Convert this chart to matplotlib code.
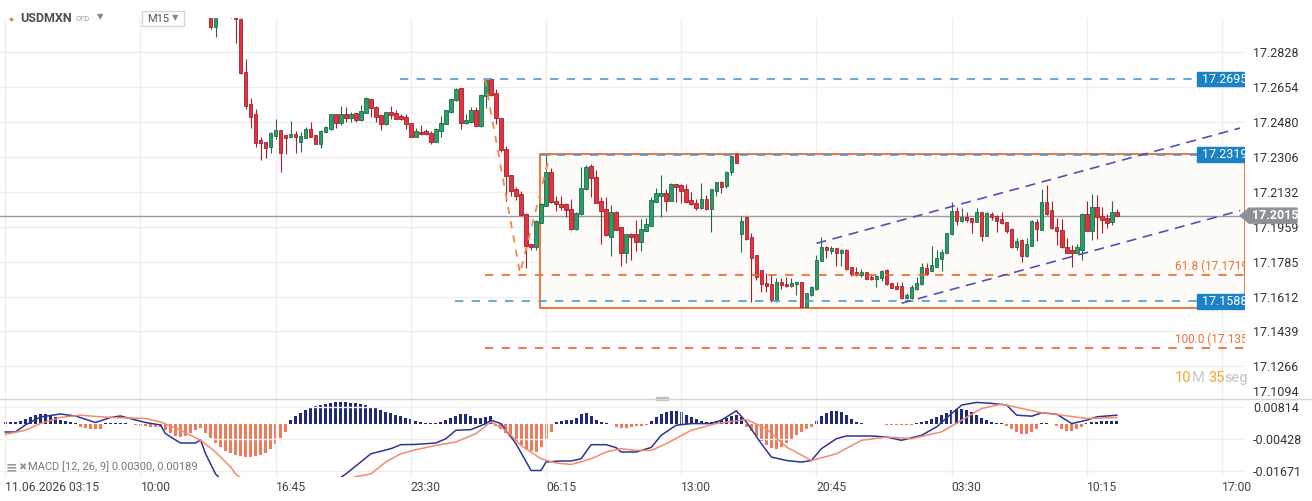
import numpy as np
import matplotlib
matplotlib.use("Agg")
import matplotlib.pyplot as plt
from matplotlib.patches import Rectangle, Polygon
from matplotlib.lines import Line2D

plt.rcParams['font.family'] = ['Roboto', 'DejaVu Sans']

# ---------------- data (M15 bars, bar 0 = 11.06.2026 03:15) ----------------
candle_start = 41
opens = [17.3060, 17.2953, 17.3049, 17.3070, 17.3040, 17.3010, 17.2995, 17.2729, 17.2570, 17.2520,
         17.2392, 17.2383, 17.2355, 17.2413, 17.2442, 17.2417, 17.2408, 17.2422, 17.2383, 17.2403,
         17.2447, 17.2415, 17.2373, 17.2430, 17.2447, 17.2520, 17.2478, 17.2520, 17.2503, 17.2525,
         17.2491, 17.2528, 17.2594, 17.2558, 17.2516, 17.2470, 17.2531, 17.2528, 17.2511, 17.2506,
         17.2476, 17.2408, 17.2432, 17.2437, 17.2427, 17.2383, 17.2435, 17.2473, 17.2531, 17.2589,
         17.2649, 17.2475, 17.2481, 17.2541, 17.2463, 17.2611, 17.2694, 17.2624, 17.2500, 17.2347,
         17.2216, 17.2146, 17.2123, 17.2023, 17.1872, 17.1860, 17.1980, 17.2065, 17.2234, 17.2088,
         17.2075, 17.2073, 17.2048, 17.1947, 17.2023, 17.2146, 17.2262, 17.2207, 17.2088, 17.2048,
         17.1910, 17.2033, 17.1957, 17.1831, 17.1924, 17.1922, 17.1885, 17.1940, 17.1965, 17.2085,
         17.2114, 17.2126, 17.2090, 17.2171, 17.2168, 17.2146, 17.2091, 17.2077, 17.2052, 17.2096,
         17.2047, 17.2139, 17.2181, 17.2164, 17.2231, 17.2322, 17.1924, 17.2007, 17.1907, 17.1818,
         17.1743, 17.1678, 17.1673, 17.1595, 17.1683, 17.1676, 17.1665, 17.1673, 17.1683, 17.1562,
         17.1620, 17.1650, 17.1791, 17.1857, 17.1839, 17.1853, 17.1828, 17.1844, 17.1758, 17.1733,
         17.1718, 17.1733, 17.1711, 17.1701, 17.1703, 17.1744, 17.1678, 17.1665, 17.1665, 17.1603,
         17.1603, 17.1650, 17.1673, 17.1753, 17.1741, 17.1761, 17.1799, 17.1831, 17.1922, 17.2040,
         17.1990, 17.2007, 17.2002, 17.1985, 17.2032, 17.1915, 17.2025, 17.2015, 17.1998, 17.1982,
         17.1947, 17.1860, 17.1894, 17.1816, 17.1865, 17.1982, 17.1944, 17.2082, 17.2043, 17.1957,
         17.1944, 17.1857, 17.1844, 17.1831, 17.1844, 17.2023, 17.1940, 17.2057, 17.2013, 17.2002,
         17.1985, 17.2032]
highs = [17.3075, 17.3060, 17.3090, 17.3100, 17.3080, 17.3040, 17.3000, 17.2794, 17.2599, 17.2546,
         17.2407, 17.2383, 17.2433, 17.2496, 17.2442, 17.2417, 17.2486, 17.2437, 17.2432, 17.2458,
         17.2481, 17.2418, 17.2440, 17.2460, 17.2523, 17.2523, 17.2561, 17.2555, 17.2531, 17.2527,
         17.2566, 17.2607, 17.2597, 17.2561, 17.2518, 17.2533, 17.2561, 17.2541, 17.2521, 17.2520,
         17.2478, 17.2453, 17.2465, 17.2447, 17.2438, 17.2450, 17.2511, 17.2543, 17.2597, 17.2649,
         17.2652, 17.2521, 17.2558, 17.2558, 17.2619, 17.2696, 17.2699, 17.2644, 17.2503, 17.2362,
         17.2219, 17.2159, 17.2139, 17.2026, 17.1875, 17.1991, 17.2076, 17.2322, 17.2251, 17.2113,
         17.2113, 17.2076, 17.2098, 17.2033, 17.2257, 17.2269, 17.2271, 17.2242, 17.2109, 17.2106,
         17.2068, 17.2036, 17.1960, 17.1925, 17.1930, 17.1993, 17.1997, 17.2002, 17.2109, 17.2154,
         17.2218, 17.2146, 17.2179, 17.2174, 17.2171, 17.2173, 17.2131, 17.2096, 17.2176, 17.2118,
         17.2149, 17.2184, 17.2189, 17.2237, 17.2317, 17.2325, 17.2013, 17.2010, 17.1927, 17.1821,
         17.1746, 17.1731, 17.1723, 17.1703, 17.1703, 17.1711, 17.1706, 17.1686, 17.1686, 17.1631,
         17.1666, 17.1819, 17.1910, 17.1864, 17.1864, 17.1856, 17.1847, 17.1847, 17.1761, 17.1758,
         17.1749, 17.1736, 17.1724, 17.1717, 17.1742, 17.1747, 17.1681, 17.1683, 17.1686, 17.1631,
         17.1670, 17.1711, 17.1778, 17.1778, 17.1864, 17.1844, 17.1849, 17.1930, 17.2082, 17.2057,
         17.2052, 17.2035, 17.2005, 17.2052, 17.2035, 17.2032, 17.2032, 17.2018, 17.2032, 17.1985,
         17.1952, 17.1902, 17.1897, 17.1902, 17.1991, 17.1997, 17.2148, 17.2168, 17.2089, 17.2002,
         17.1998, 17.1902, 17.1869, 17.1874, 17.2027, 17.2089, 17.2121, 17.2118, 17.2057, 17.2023,
         17.2088, 17.2047]
lows = [17.2943, 17.2906, 17.3020, 17.3030, 17.3000, 17.2873, 17.2720, 17.2545, 17.2450, 17.2355,
        17.2292, 17.2301, 17.2326, 17.2395, 17.2234, 17.2321, 17.2405, 17.2329, 17.2334, 17.2400,
        17.2405, 17.2370, 17.2350, 17.2428, 17.2442, 17.2450, 17.2465, 17.2481, 17.2483, 17.2481,
        17.2488, 17.2525, 17.2508, 17.2483, 17.2442, 17.2467, 17.2498, 17.2496, 17.2491, 17.2445,
        17.2405, 17.2405, 17.2418, 17.2416, 17.2372, 17.2380, 17.2408, 17.2470, 17.2528, 17.2586,
        17.2447, 17.2472, 17.2478, 17.2460, 17.2458, 17.2550, 17.2613, 17.2471, 17.2334, 17.2090,
        17.2113, 17.2093, 17.2015, 17.1756, 17.1844, 17.1844, 17.1977, 17.2062, 17.2079, 17.2038,
        17.2043, 17.2010, 17.1944, 17.1944, 17.2020, 17.2143, 17.2109, 17.2077, 17.1874, 17.1916,
        17.1816, 17.1941, 17.1766, 17.1778, 17.1794, 17.1839, 17.1839, 17.1937, 17.1962, 17.2082,
        17.2010, 17.2040, 17.2087, 17.2085, 17.2077, 17.2082, 17.2069, 17.2043, 17.2049, 17.2044,
        17.1935, 17.2114, 17.2126, 17.2151, 17.2217, 17.2276, 17.1833, 17.1894, 17.1587, 17.1695,
        17.1636, 17.1636, 17.1587, 17.1587, 17.1650, 17.1662, 17.1662, 17.1620, 17.1558, 17.1559,
        17.1617, 17.1647, 17.1788, 17.1803, 17.1826, 17.1764, 17.1764, 17.1745, 17.1714, 17.1714,
        17.1711, 17.1698, 17.1695, 17.1658, 17.1690, 17.1670, 17.1653, 17.1648, 17.1598, 17.1600,
        17.1600, 17.1647, 17.1670, 17.1720, 17.1738, 17.1758, 17.1741, 17.1828, 17.1919, 17.1969,
        17.1985, 17.1985, 17.1930, 17.1982, 17.1890, 17.1912, 17.1993, 17.1935, 17.1974, 17.1927,
        17.1855, 17.1844, 17.1783, 17.1811, 17.1862, 17.1890, 17.1941, 17.2019, 17.1949, 17.1869,
        17.1854, 17.1828, 17.1761, 17.1828, 17.1794, 17.1937, 17.1894, 17.1897, 17.1930, 17.1955,
        17.1969, 17.2012]
closes = [17.2956, 17.3049, 17.3070, 17.3040, 17.3010, 17.2995, 17.2724, 17.2563, 17.2508, 17.2378,
          17.2378, 17.2353, 17.2425, 17.2442, 17.2329, 17.2403, 17.2422, 17.2408, 17.2412, 17.2447,
          17.2408, 17.2373, 17.2437, 17.2457, 17.2520, 17.2478, 17.2520, 17.2503, 17.2521, 17.2491,
          17.2536, 17.2601, 17.2550, 17.2508, 17.2470, 17.2530, 17.2518, 17.2498, 17.2498, 17.2470,
          17.2408, 17.2437, 17.2420, 17.2420, 17.2383, 17.2447, 17.2476, 17.2540, 17.2594, 17.2646,
          17.2475, 17.2491, 17.2541, 17.2463, 17.2616, 17.2691, 17.2616, 17.2500, 17.2342, 17.2214,
          17.2139, 17.2114, 17.2018, 17.1865, 17.1857, 17.1988, 17.2073, 17.2234, 17.2082, 17.2072,
          17.2060, 17.2042, 17.1947, 17.2027, 17.2151, 17.2257, 17.2201, 17.2080, 17.2040, 17.1919,
          17.2033, 17.1944, 17.1831, 17.1922, 17.1910, 17.1885, 17.1947, 17.1974, 17.2093, 17.2129,
          17.2126, 17.2090, 17.2171, 17.2159, 17.2139, 17.2085, 17.2072, 17.2052, 17.2096, 17.2047,
          17.2146, 17.2181, 17.2159, 17.2234, 17.2314, 17.2279, 17.1988, 17.1899, 17.1803, 17.1708,
          17.1673, 17.1665, 17.1595, 17.1683, 17.1670, 17.1665, 17.1678, 17.1683, 17.1562, 17.1628,
          17.1658, 17.1794, 17.1857, 17.1844, 17.1853, 17.1828, 17.1844, 17.1748, 17.1724, 17.1723,
          17.1733, 17.1701, 17.1698, 17.1714, 17.1739, 17.1673, 17.1656, 17.1651, 17.1603, 17.1620,
          17.1661, 17.1681, 17.1758, 17.1724, 17.1769, 17.1806, 17.1836, 17.1927, 17.2040, 17.1990,
          17.2007, 17.1993, 17.1985, 17.2032, 17.1915, 17.2027, 17.2010, 17.1990, 17.1977, 17.1940,
          17.1860, 17.1889, 17.1816, 17.1874, 17.1988, 17.1950, 17.2082, 17.2022, 17.1952, 17.1940,
          17.1857, 17.1831, 17.1831, 17.1857, 17.2023, 17.1940, 17.2057, 17.2010, 17.1993, 17.1977,
          17.2032, 17.2015]

# MACD histogram, one value per bar from bar 0
macd_hist = [0.0008, 0.0008, 0.0010, 0.0012, 0.0020, 0.0028, 0.0036, 0.0040, 0.0040, 0.0036,
             0.0028, 0.0016, 0.0012, 0.0008, 0.0004, -0.0012, -0.0014, -0.0018, -0.0020, -0.0018,
             0.0004, 0.0006, 0.0006, 0.0004, 0.0004, 0.0002, -0.0004, -0.0006, -0.0008, -0.0012,
             -0.0012, -0.0012, -0.0024, -0.0036, -0.0048, -0.0052, -0.0048, -0.0036, -0.0024, -0.0016,
             -0.0036, -0.0056, -0.0076, -0.0092, -0.0108, -0.0116, -0.0124, -0.0128, -0.0132, -0.0132,
             -0.0128, -0.0124, -0.0116, -0.0100, -0.0080, -0.0056, -0.0032, 0.0016, 0.0032, 0.0044,
             0.0056, 0.0064, 0.0072, 0.0078, 0.0082, 0.0086, 0.0088, 0.0088, 0.0088, 0.0086,
             0.0084, 0.0080, 0.0076, 0.0070, 0.0064, 0.0056, 0.0050, 0.0044, 0.0038, 0.0032,
             0.0026, 0.0020, 0.0014, 0.0010, 0.0004, 0.0004, 0.0006, 0.0010, 0.0016, 0.0024,
             0.0032, 0.0040, 0.0040, 0.0034, 0.0024, 0.0024, 0.0030, 0.0032, -0.0008, -0.0020,
             -0.0036, -0.0052, -0.0068, -0.0084, -0.0100, -0.0108, -0.0112, -0.0092, -0.0060, -0.0032,
             0.0008, 0.0014, 0.0016, 0.0018, 0.0026, 0.0040, 0.0044, 0.0034, 0.0018, 0.0010,
             0.0004, 0.0000, -0.0012, -0.0014, -0.0014, -0.0012, -0.0008, -0.0006, -0.0004, 0.0012,
             0.0028, 0.0040, 0.0048, 0.0054, 0.0054, 0.0048, 0.0038, 0.0028, 0.0020, 0.0014,
             0.0008, 0.0008, 0.0012, 0.0018, 0.0024, 0.0032, 0.0038, 0.0028, -0.0012, -0.0028,
             -0.0048, -0.0068, -0.0084, -0.0096, -0.0100, -0.0092, -0.0076, -0.0060, -0.0044, -0.0032,
             -0.0020, -0.0012, 0.0012, 0.0032, 0.0044, 0.0052, 0.0054, 0.0048, 0.0036, 0.0020,
             0.0008, 0.0004, 0.0002, 0.0000, 0.0000, 0.0000, -0.0003, -0.0003, -0.0003, -0.0003,
             -0.0003, -0.0003, 0.0004, 0.0008, 0.0014, 0.0020, 0.0028, 0.0036, 0.0046, 0.0056,
             0.0062, 0.0062, 0.0056, 0.0048, 0.0036, 0.0024, 0.0016, 0.0010, 0.0006, 0.0004,
             -0.0008, -0.0020, -0.0032, -0.0038, -0.0038, -0.0032, -0.0020, 0.0004, 0.0004, 0.0000,
             -0.0008, -0.0020, -0.0028, -0.0028, -0.0020, -0.0010, 0.0004, 0.0008, 0.0010, 0.0012,
             0.0012, 0.0012, 0.0012]

macd_bars = [0, 2, 4, 7, 11, 14, 18, 21, 23, 26, 28, 31, 32, 34, 35, 38, 39, 40, 42, 45,
             50, 55, 60, 65, 68, 71, 73, 77, 79, 82, 86, 88, 90, 93, 96, 97, 99, 102, 105, 107,
             108, 111, 113, 115, 117, 120, 122, 123, 126, 129, 131, 134, 137, 141, 143, 146, 148, 151, 153, 156,
             159, 161, 163, 166, 168, 173, 176, 179, 183, 186, 189, 191, 194, 197, 200, 202, 205, 207, 210, 213,
             216, 218, 222]
macd_line = [-0.00166, -0.00166, 0.00106, 0.00417, 0.00534, 0.00456, 0.00203, 0.00398, 0.00456, 0.00301,
             0.00203, 0.00106, -0.00229, -0.00477, -0.00594, -0.00594, -0.00477, -0.01014, -0.01800, -0.02400,
             -0.03000, -0.03100, -0.02800, -0.02200, -0.01800, -0.01333, -0.01014, -0.00816, -0.00660, -0.00649,
             -0.00594, -0.00427, -0.00100, -0.00073, 0.00161, 0.00293, 0.00161, -0.00621, -0.01664, -0.01664,
             -0.01333, -0.01294, -0.01294, -0.01209, -0.00660, -0.00660, -0.00777, -0.00944, -0.00944, -0.00769,
             -0.00295, 0.00098, 0.00161, 0.00161, 0.00293, 0.00658, 0.00227, -0.00621, -0.01139, -0.01275,
             -0.01337, -0.01275, -0.00816, -0.00427, -0.00322, -0.00322, -0.00361, -0.00489, -0.00295, 0.00032,
             0.00553, 0.00880, 0.00985, 0.00946, 0.00880, 0.00487, 0.00448, 0.00581, 0.00526, 0.00161,
             0.00293, 0.00425, 0.00487]

signal_bars = [0, 4, 7, 11, 15, 19, 23, 28, 31, 35, 39, 42, 45, 46, 50, 55, 60, 65, 70, 73,
               76, 79, 82, 86, 90, 94, 97, 100, 103, 107, 110, 113, 117, 120, 123, 126, 129, 132, 137, 142,
               148, 152, 156, 161, 166, 171, 176, 181, 187, 191, 195, 199, 203, 207, 211, 216, 222]
signal_line = [-0.00256, -0.00100, 0.00161, 0.00398, 0.00487, 0.00425, 0.00386, 0.00359, 0.00223, -0.00100,
               -0.00489, -0.00944, -0.01528, -0.01800, -0.02400, -0.02700, -0.02700, -0.02400, -0.01900, -0.01800,
               -0.01333, -0.01014, -0.00855, -0.00688, -0.00555, -0.00229, 0.00223, -0.00100, -0.00688, -0.01209,
               -0.01372, -0.01431, -0.01209, -0.00944, -0.00816, -0.00882, -0.00882, -0.00621, -0.00100, 0.00161,
               0.00320, -0.00034, -0.00750, -0.01275, -0.01014, -0.00489, -0.00361, -0.00427, -0.00162, 0.00293,
               0.00748, 0.00919, 0.00748, 0.00581, 0.00487, 0.00359, 0.00398]

time_ticks = [0, 27, 54, 81, 108, 135, 162, 189, 216, 243]
time_labels = ['11.06.2026 03:15', '10:00', '16:45', '23:30', '06:15',
               '13:00', '20:45', '03:30', '10:15', '17:00']
price_ticks = [17.2828, 17.2654, 17.2480, 17.2306, 17.2132, 17.1959,
               17.1785, 17.1612, 17.1439, 17.1266, 17.1094]
macd_ticks = [0.00814, -0.00428, -0.01671]

last_price = 17.2015
level_prices = [17.2695, 17.2319, 17.1588]
level_starts = [78.9, 106.8, 89.8]
box_start, box_low, box_high = 106.8, 17.1555, 17.2322
fib_prices = [17.1719, 17.1354]
fib_names = ['61.8 (17.1719)', '100.0 (17.1354)']
fib_start = 95.8
fib_path_bars = [95.8, 102.8, 108.8]
fib_path_prices = [17.2695, 17.1729, 17.2322]
chan_upper_bars, chan_upper = [162.0, 246.6], [17.1877, 17.2451]
chan_lower_bars, chan_lower = [179.0, 246.6], [17.1579, 17.2040]

# ---------------- figure ----------------
W, H = 1312, 501
fig = plt.figure(figsize=(W / 100, H / 100), dpi=100)
fig.patch.set_facecolor('white')


def fx(px):
    return px / W


def fy(py):
    return 1 - py / H


RIGHT = 1245
ax = fig.add_axes([0, fy(399), fx(RIGHT), (399 - 18) / H])
axm = fig.add_axes([0, fy(477), fx(RIGHT), (477 - 399) / H])
xmin, xmax = -1.06, 247.6
tag_x = 238.0

# MACD histogram lives on a hidden twin so its zero sits a little higher
axh = axm.twinx()
axh.set_xlim(xmin, xmax)
axh.set_ylim(-0.0212, 0.0100)
hist = np.array(macd_hist)
axh.bar(np.arange(len(hist)), hist, width=0.6,
        color=np.where(hist >= 0, '#1f2a7c', '#f07a5c'))
axh.axis('off')
axh.set_zorder(axm.get_zorder() - 1)
axm.patch.set_visible(False)

grid_c = '#efefef'
for a in (ax, axm):
    a.set_xlim(xmin, xmax)
    a.set_xticks(time_ticks)
    a.grid(True, color=grid_c, lw=1, zorder=0)
    for s in a.spines.values():
        s.set_visible(False)
    a.yaxis.tick_right()
    a.yaxis.set_label_position('right')
    a.tick_params(axis='y', length=0, pad=5.8, labelsize=9, labelcolor='#333333')
    a.set_axisbelow(True)

# price panel
ax.set_ylim(17.1102, 17.2999)
ax.set_yticks(price_ticks[:-1])
ax.set_yticklabels([f'{p:.4f}' for p in price_ticks[:-1]])
ax.tick_params(axis='x', length=0, labelbottom=False)
fig.text(fx(1253), fy(393), f'{price_ticks[-1]:.4f}', fontsize=9, color='#333333', va='center')

ax.add_patch(Rectangle((box_start, box_low), xmax - box_start, box_high - box_low,
                       facecolor='#fdfbf8', edgecolor='#e8601c', lw=1.2, zorder=1))
ax.axhline(last_price, color='#9a9a9a', lw=1, zorder=2)

idx = np.arange(candle_start, candle_start + len(opens))
o, h, l, c = map(np.array, (opens, highs, lows, closes))
up = c >= o
body_lo = np.minimum(o, c)
body_h = np.maximum(np.abs(c - o), 0.00045)
for mask, fill, edge in ((up, '#2a9d68', '#1c6e48'), (~up, '#e4323f', '#a81f2b')):
    ax.vlines(idx[mask], l[mask], h[mask], color=edge, lw=0.8, zorder=3)
    ax.bar(idx[mask], body_h[mask], bottom=body_lo[mask], width=0.7, color=fill,
           edgecolor=edge, lw=0.6, zorder=4)

# drawing tools
for lvl, start in zip(level_prices, level_starts):
    ax.plot([start, tag_x], [lvl, lvl], color='#4a9bd5', lw=1.2, ls=(0, (5, 5)), zorder=5)
    ax.add_patch(Rectangle((tag_x, lvl - 0.0036), xmax - tag_x, 0.0072, color='#1c82c6', zorder=6))
    ax.text(tag_x + 1.1, lvl, f'{lvl:.4f}', color='white', fontsize=9, va='center',
            ha='left', zorder=7, clip_on=True)

for lvl, name in zip(fib_prices, fib_names):
    ax.plot([fib_start, xmax], [lvl, lvl], color='#f26522', lw=1.2, ls=(0, (5, 5)), zorder=5)
    ax.annotate(name, (233.6, lvl), xytext=(0, 6.5), textcoords='offset points', color='#f07030',
                fontsize=8.5, va='center', ha='left', zorder=7, clip_on=True)

ax.plot(fib_path_bars, fib_path_prices, color='#f4874b', lw=1.3, ls=(0, (4, 4)), zorder=5)
ax.plot(chan_upper_bars, chan_upper, color='#5a4db5', lw=1.2, ls=(0, (6, 4)), zorder=5)
ax.plot(chan_lower_bars, chan_lower, color='#5a4db5', lw=1.2, ls=(0, (6, 4)), zorder=5)

# current price tag
yf = ax.transData.transform((0, last_price))[1] / H
fig.add_artist(Polygon([(fx(1240), yf), (fx(1249), yf + 7.5 / H), (fx(1297), yf + 7.5 / H),
                        (fx(1297), yf - 7.5 / H), (fx(1249), yf - 7.5 / H)],
                       closed=True, transform=fig.transFigure, color='#8b9196'))
fig.text(fx(1252), yf, f'{last_price:.4f}', color='white', fontsize=9, weight='bold', va='center')

# countdown
t1 = fig.text(fx(1175), fy(378), '10', color='#f5a623', fontsize=10.5, va='center')
t2 = fig.text(0, 0, 'M ', color='#c8c8c8', fontsize=10.5)
t3 = fig.text(0, 0, '35', color='#f5a623', fontsize=10.5)
t4 = fig.text(0, 0, 'seg', color='#c0c0c0', fontsize=10.5)
fig.canvas.draw()
prev = t1
for t in (t2, t3, t4):
    bb = prev.get_window_extent()
    t.set_position((bb.x1 / W, fy(378)))
    t.set_va('center')
    fig.canvas.draw()
    prev = t

# MACD panel
axm.set_ylim(-0.01917, 0.01117)
axm.set_yticks(macd_ticks)
axm.set_yticklabels([f'{v:.5f}' for v in macd_ticks])
axm.set_xticklabels(time_labels, ha='left')
axm.tick_params(axis='x', length=0, pad=3, labelsize=8.7, labelcolor='#444444')
axm.plot(macd_bars, macd_line, color='#2b3595', lw=1.1, zorder=3)
axm.plot(signal_bars, signal_line, color='#f28b6e', lw=1.1, zorder=3)

fig.text(fx(28), fy(467), 'MACD [12, 26, 9] 0.00300, 0.00189', fontsize=8, color='#777777', va='center')
fig.text(fx(6), fy(467), '≡', fontsize=10, color='#999999', va='center', weight='bold')
fig.text(fx(18), fy(467), '✖', fontsize=7, color='#999999', va='center', family='DejaVu Sans')

# panel separator and handle
fig.add_artist(Line2D([0, 1], [fy(399), fy(399)], color='#d4d4d4', lw=1))
fig.add_artist(Rectangle((fx(656), fy(400)), 12 / W, 3 / H, color='#c0c0c0', transform=fig.transFigure))

# header
fig.add_artist(Line2D([fx(11)], [fy(19)], marker='o', ms=1.6, color='#f08030'))
fig.text(fx(20.5), fy(18), 'USDMXN', fontsize=9, weight='bold', color='#4a5058', va='center')
fig.text(fx(75), fy(19), 'CFD', fontsize=5.5, color='#9a9a9a', va='center')
fig.text(fx(97), fy(17), '▼', fontsize=6, color='#888888', va='center', family='DejaVu Sans')
fig.add_artist(Rectangle((fx(141.7), fy(25.7)), 42.6 / W, 15 / H, facecolor='white',
                         edgecolor='#d6d6d6', lw=1, transform=fig.transFigure))
fig.text(fx(147), fy(18.5), 'M15', fontsize=8, color='#555555', va='center')
fig.text(fx(172), fy(17.5), '▼', fontsize=6, color='#888888', va='center', family='DejaVu Sans')

fig.savefig('out.png', dpi=100)
